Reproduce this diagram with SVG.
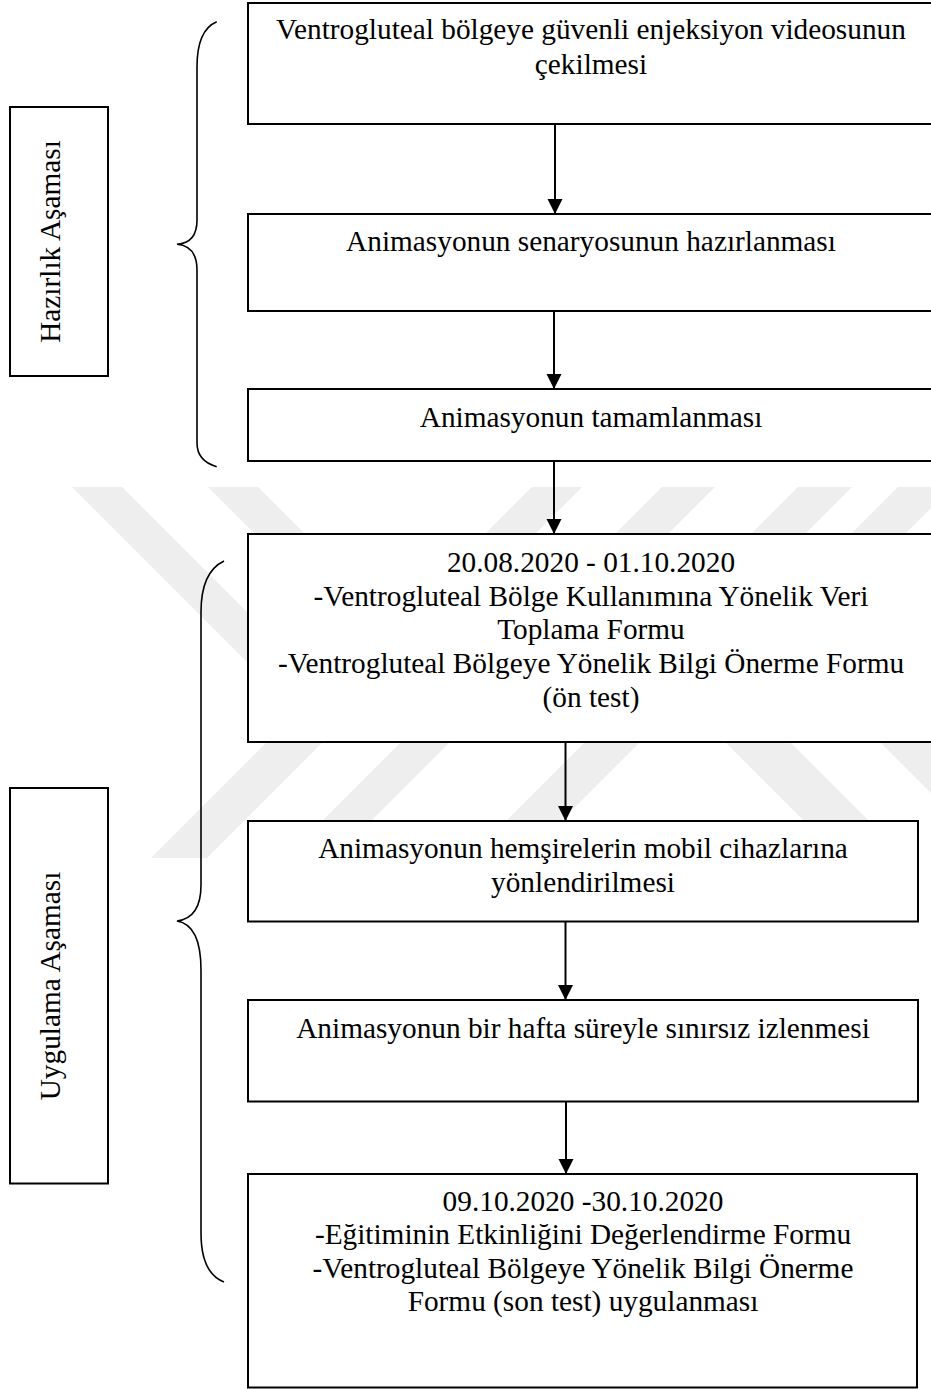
<svg xmlns="http://www.w3.org/2000/svg" width="931" height="1389" viewBox="0 0 931 1389">
<style>
.box{fill:#ffffff;stroke:#000000;stroke-width:2}
.t{font-family:"Liberation Serif","Times New Roman",serif;font-size:29.3px;fill:#000000;text-anchor:middle}
.wm{fill:#eeeeee;stroke:none}
.br{fill:none;stroke:#000000;stroke-width:1.6}
.conn{stroke:#000000;stroke-width:2;fill:none}
</style>
<defs>
<marker id="ah" markerUnits="userSpaceOnUse" markerWidth="16" markerHeight="16" refX="15" refY="7.5" orient="auto">
<path d="M0,0 L15,7.5 L0,15 z" fill="#000000"/>
</marker>
</defs>
<rect x="0" y="0" width="931" height="1389" fill="#ffffff"/>
<g id="watermark">
<polygon class="wm" points="72,487 122,487 377,742 327,742"/>
<polygon class="wm" points="208,487 258,487 513,742 463,742"/>
<polygon class="wm" points="532,487 582,487 327,742 277,742"/>
<polygon class="wm" points="662,487 715,487 460,742 407,742"/>
<polygon class="wm" points="798,487 852,487 597,742 543,742"/>
<polygon class="wm" points="898,487 952,487 697,742 643,742"/>
<polygon class="wm" points="267,742 323,742 207,858 151,858"/>
<polygon class="wm" points="401,742 450,742 334,858 285,858"/>
<polygon class="wm" points="585,742 640,742 524,858 469,858"/>
<polygon class="wm" points="725,742 790,742 906,858 841,858"/>
<polygon class="wm" points="880,742 935,742 1051,858 996,858"/>
</g>
<g id="brace-hazirlik">
<path class="br" d="M216.7,21.7 Q197,30 197,67 L197,220 Q197,243 177,244.3 Q197,246 197,270 L197,443 Q197,461 216.7,466.7"/>
</g>
<g id="brace-uygulama">
<path class="br" d="M224,561 Q201,572 201,612 L201,885 Q201,918 177,921 Q201,925 201,970 L201,1233 Q201,1273 224,1282"/>
</g>
<g id="label-hazirlik">
<rect class="box" x="10" y="107" width="98" height="269"/>
<text class="t" transform="translate(60,241.5) rotate(-90)">Hazırlık Aşaması</text>
</g>
<g id="label-uygulama">
<rect class="box" x="10" y="788" width="98" height="395.5"/>
<text class="t" transform="translate(60,986) rotate(-90)">Uygulama Aşaması</text>
</g>
<g id="n1">
<rect class="box" x="248" y="3" width="686" height="121"/>
<text class="t" x="591" y="39">Ventrogluteal bölgeye güvenli enjeksiyon videosunun</text>
<text class="t" x="591" y="73.5">çekilmesi</text>
</g>
<g id="n2">
<rect class="box" x="248" y="214" width="686" height="97"/>
<text class="t" x="591" y="250.5">Animasyonun senaryosunun hazırlanması</text>
</g>
<g id="n3">
<rect class="box" x="248" y="389" width="686" height="72"/>
<text class="t" x="591" y="426.5">Animasyonun tamamlanması</text>
</g>
<g id="n4">
<rect class="box" x="248" y="534" width="686" height="208"/>
<text class="t" x="591" y="572">20.08.2020 - 01.10.2020</text>
<text class="t" x="591" y="605.7">-Ventrogluteal Bölge Kullanımına Yönelik Veri</text>
<text class="t" x="591" y="639.4">Toplama Formu</text>
<text class="t" x="591" y="673.1">-Ventrogluteal Bölgeye Yönelik Bilgi Önerme Formu</text>
<text class="t" x="591" y="706.8">(ön test)</text>
</g>
<g id="n5">
<rect class="box" x="248" y="821" width="670" height="100.5"/>
<text class="t" x="583" y="858">Animasyonun hemşirelerin mobil cihazlarına</text>
<text class="t" x="583" y="892">yönlendirilmesi</text>
</g>
<g id="n6">
<rect class="box" x="248" y="1000" width="670" height="101.5"/>
<text class="t" x="583" y="1037.6">Animasyonun bir hafta süreyle sınırsız izlenmesi</text>
</g>
<g id="n7">
<rect class="box" x="248" y="1174" width="669" height="213.5"/>
<text class="t" x="583" y="1210.5">09.10.2020 -30.10.2020</text>
<text class="t" x="583" y="1244">-Eğitiminin Etkinliğini Değerlendirme Formu</text>
<text class="t" x="583" y="1277.5">-Ventrogluteal Bölgeye Yönelik Bilgi Önerme</text>
<text class="t" x="583" y="1311">Formu (son test) uygulanması</text>
</g>
<g id="connectors">
<line class="conn" x1="555" y1="124" x2="555" y2="214" marker-end="url(#ah)"/>
<line class="conn" x1="554" y1="311" x2="554" y2="389" marker-end="url(#ah)"/>
<line class="conn" x1="554" y1="461" x2="554" y2="534" marker-end="url(#ah)"/>
<line class="conn" x1="565.5" y1="742" x2="565.5" y2="821" marker-end="url(#ah)"/>
<line class="conn" x1="565.5" y1="921.5" x2="565.5" y2="1000" marker-end="url(#ah)"/>
<line class="conn" x1="566" y1="1101.5" x2="566" y2="1174" marker-end="url(#ah)"/>
</g>
</svg>
